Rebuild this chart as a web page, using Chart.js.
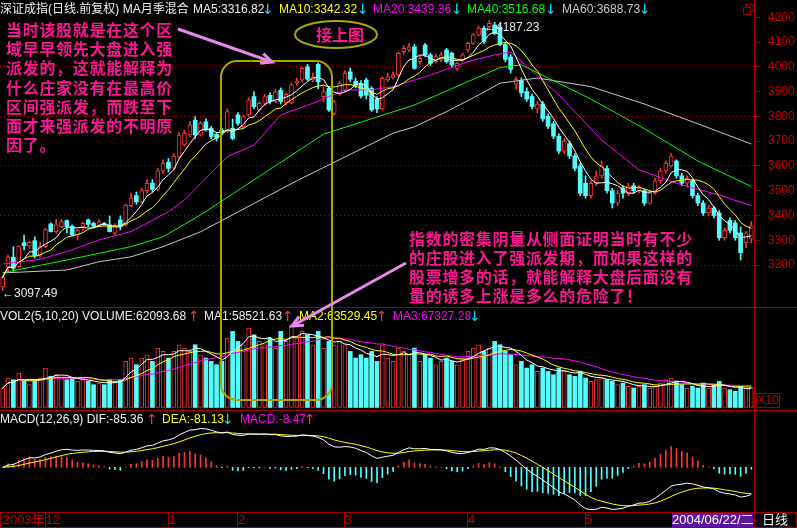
<!DOCTYPE html>
<html><head><meta charset="utf-8">
<script src="https://cdn.jsdelivr.net/npm/chart.js@4.4.1/dist/chart.umd.min.js"></script>
<style>
html,body{margin:0;padding:0;background:#000;overflow:hidden;}
#wrap{position:relative;width:797px;height:528px;background:#000;overflow:hidden;font-family:'Liberation Sans',Arial,'Noto Sans CJK SC',sans-serif;}
canvas{position:absolute;left:0;}
.t{position:absolute;white-space:nowrap;font-size:12px;line-height:14px;}
.a{position:absolute;white-space:nowrap;font-size:14px;line-height:14px;font-family:'DejaVu Sans',sans-serif;}
.ln{position:absolute;background:#a00000;}
.note{position:absolute;font-family:'Noto Sans CJK SC',sans-serif;font-weight:700;font-size:16px;color:#ff1493;letter-spacing:0.7px;white-space:nowrap;}
</style></head>
<body><div id="wrap">
<canvas id="cPrice" width="797" height="307" style="top:0"></canvas>
<canvas id="cVol" width="797" height="100" style="top:308px"></canvas>
<canvas id="cMacd" width="797" height="117" style="top:411px"></canvas>

<div class="ln" style="left:0;top:307px;width:797px;height:1px"></div>
<div class="ln" style="left:0;top:410px;width:797px;height:1px"></div>
<div class="ln" style="left:754px;top:0;width:1px;height:528px"></div>
<div style="position:absolute;left:0;top:512px;width:797px;height:16px;box-sizing:border-box;border:1px solid #a00000;"></div>

<div class="t" style="left:0;top:2px;color:#f0f0f0">深证成指(日线.前复权) MA月季混合</div>
<div class="t" style="left:193px;top:2px;color:#f0f0f0">MA5:3316.82</div><div class="a" style="left:262px;top:2px;color:#00e8ff">↓</div>
<div class="t" style="left:279px;top:2px;color:#ffff00">MA10:3342.32</div><div class="a" style="left:357px;top:2px;color:#00e8ff">↓</div>
<div class="t" style="left:373px;top:2px;color:#ff00ff">MA20:3439.36</div><div class="a" style="left:451px;top:2px;color:#00e8ff">↓</div>
<div class="t" style="left:467px;top:2px;color:#00ff00">MA40:3516.68</div><div class="a" style="left:545px;top:2px;color:#00e8ff">↓</div>
<div class="t" style="left:562px;top:2px;color:#c8c8c8">MA60:3688.73</div><div class="a" style="left:639px;top:2px;color:#00e8ff">↓</div>
<div style="position:absolute;left:746px;top:4px;width:6px;height:6px;border:1px solid #a00000"></div>
<div style="position:absolute;left:743px;top:7px;width:6px;height:6px;border:1px solid #a00000;background:#000"></div>

<div class="t" style="left:0;top:309px;color:#f0f0f0">VOL2(5,10,20) VOLUME:62093.68</div><div class="a" style="left:188px;top:309px;color:#ff3232">↑</div>
<div class="t" style="left:204px;top:309px;color:#f0f0f0">MA1:58521.63</div><div class="a" style="left:282px;top:309px;color:#ff3232">↑</div>
<div class="t" style="left:299px;top:309px;color:#ffff00">MA2:63529.45</div><div class="a" style="left:376px;top:309px;color:#ff3232">↑</div>
<div class="t" style="left:393px;top:309px;color:#ff00ff">MA3:67327.28</div><div class="a" style="left:469px;top:309px;color:#00e8ff">↓</div>
<div class="t" style="left:756px;top:393px;width:22px;height:13px;border:1px solid #a00000;color:#c80000;font-size:12px;line-height:13px;text-align:center">X10</div>

<div class="t" style="left:0;top:412px;color:#f0f0f0">MACD(12,26,9) DIF:-85.36</div><div class="a" style="left:146px;top:412px;color:#ff3232">↑</div>
<div class="t" style="left:162px;top:412px;color:#ffff00">DEA:-81.13</div><div class="a" style="left:222px;top:412px;color:#00e8ff">↓</div>
<div class="t" style="left:240px;top:412px;color:#ff00ff">MACD:-8.47</div><div class="a" style="left:304px;top:412px;color:#ff3232">↑</div>

<div class="t" style="left:672px;top:513px;width:81px;height:14px;background:#5b189e;color:#fff;font-size:13px;text-align:center">2004/06/22/二</div>
<div class="t" style="left:762px;top:513px;color:#f0f0f0;font-size:13px">日线</div>

<div class="t" style="left:2px;top:286px;color:#e8e8e8">←3097.49</div>
<div class="t" style="left:484px;top:20px;color:#e8e8e8">←4187.23</div>

<svg width="797" height="528" style="position:absolute;left:0;top:0">
  <rect x="221" y="61" width="111" height="339" rx="16" ry="16" fill="none" stroke="#a8a800" stroke-width="2"/>
  <ellipse cx="336" cy="34.5" rx="41" ry="13.5" fill="none" stroke="#a8a800" stroke-width="2"/>
  <line x1="178" y1="29" x2="271" y2="61.6" stroke="#e888e8" stroke-width="3"/>
  <polyline points="263.4,53.6 272,62 260.1,63.2" fill="none" stroke="#e888e8" stroke-width="3"/>
  <line x1="406" y1="263" x2="293" y2="325.5" stroke="#e888e8" stroke-width="3"/>
  <polyline points="304,325.2 292,326 299.1,316.3" fill="none" stroke="#e888e8" stroke-width="3"/>
</svg>
<div class="note" style="left:316px;top:24px;font-size:16px;line-height:20px;letter-spacing:0">接上图</div>
<div class="note" style="left:6px;top:20px;line-height:19.2px">当时该股就是在这个区<br>域早早领先大盘进入强<br>派发的，这就能解释为<br>什么庄家没有在最高价<br>区间强派发，而跌至下<br>面才来强派发的不明原<br>因了。</div>
<div class="note" style="left:409px;top:229px;line-height:19px">指数的密集阴量从侧面证明当时有不少<br>的庄股进入了强派发期，而如果这样的<br>股票增多的话，就能解释大盘后面没有<br>量的诱多上涨是多么的危险了！</div>
</div>
<script>
const RED = '#ff3232', CYAN = '#54fcfc', AXIS = '#a00000', LABEL = '#c80000';
const FONT = "'Liberation Sans', Arial, 'Noto Sans CJK SC', sans-serif";

// ---- daily candles ----
const opens = [3112,3187,3231,3193,3290,3276,3298,3240,3274,3366,
3335,3355,3379,3357,3321,3355,3382,3368,3359,3366,
3362,3328,3382,3362,3440,3480,3455,3500,3530,3505,
3580,3615,3590,3635,3685,3725,3785,3725,3778,3752,
3728,3745,3738,3752,3806,3758,3806,3880,3826,3853,
3885,3860,3906,3853,3855,3934,3947,4000,3947,4010,
3880,3913,3812,3893,3906,3980,3942,3932,3947,3913,
3870,3830,3947,3955,3967,4061,4068,4081,4021,4088,
4048,4021,4028,4068,4055,3994,4028,4068,4095,4129,
4156,4162,4169,4160,4090,4040,3930,3945,3900,3880,
3830,3850,3800,3770,3720,3660,3690,3640,3600,3530,
3480,3530,3560,3590,3500,3450,3510,3490,3520,3500,
3500,3450,3490,3540,3580,3600,3620,3560,3530,3540,
3480,3450,3410,3430,3410,3310,3380,3370,3330,3290,3304];
const highs = [3156,3240,3274,3278,3321,3296,3314,3292,3348,3370,
3384,3384,3382,3362,3344,3372,3386,3374,3382,3372,
3398,3366,3398,3446,3490,3495,3510,3545,3545,3590,
3625,3630,3650,3735,3745,3780,3799,3780,3790,3760,
3735,3752,3830,3790,3815,3805,3875,3900,3860,3890,
3895,3910,3915,3895,3935,3955,4000,4010,3975,4015,
3920,3920,3865,3940,3985,3995,3955,3945,3955,3920,
3880,3960,3975,3980,4060,4085,4095,4090,4045,4095,
4055,4050,4058,4075,4060,4020,4055,4100,4135,4165,
4165,4187.23,4180,4170,4100,4050,3960,3955,3915,3890,
3860,3860,3810,3780,3730,3710,3700,3650,3610,3560,
3540,3580,3620,3600,3510,3500,3520,3530,3530,3520,
3505,3500,3550,3590,3620,3650,3625,3570,3560,3545,
3490,3460,3440,3435,3420,3350,3390,3380,3353,3336,3375];
const lows = [3097.49,3173,3175,3190,3261,3266,3228,3232,3270,3333,
3328,3351,3330,3318,3301,3340,3355,3350,3355,3360,
3333,3322,3342,3358,3435,3445,3450,3490,3495,3500,
3570,3575,3585,3630,3680,3718,3711,3720,3740,3710,
3700,3725,3735,3705,3765,3750,3800,3830,3820,3845,
3850,3855,3850,3845,3850,3925,3940,3945,3940,3912,
3859,3820,3805,3885,3900,3940,3915,3875,3870,3820,
3815,3825,3940,3950,3960,4050,4060,3990,4010,4040,
4005,4015,4020,4015,4000,3985,4020,4060,4090,4125,
4095,4150,4130,4085,4020,3975,3910,3880,3860,3830,
3815,3780,3750,3710,3650,3650,3630,3580,3480,3470,
3470,3520,3550,3490,3430,3440,3470,3480,3490,3490,
3440,3445,3485,3530,3570,3595,3550,3520,3520,3470,
3440,3400,3400,3390,3300,3300,3330,3300,3220,3270,3290];
const closes = [3150,3233,3187,3274,3278,3292,3236,3274,3343,3335,
3362,3375,3355,3321,3339,3368,3364,3357,3375,3364,
3335,3357,3355,3442,3470,3455,3500,3530,3505,3580,
3610,3590,3640,3725,3732,3765,3725,3772,3745,3718,
3712,3735,3819,3711,3772,3799,3866,3839,3853,3880,
3860,3900,3860,3889,3927,3943,3994,3950,3960,3940,
3900,3826,3859,3934,3974,3950,3925,3882,3885,3826,
3830,3954,3960,3968,4055,4075,4081,3994,4034,4048,
4014,4041,4048,4021,4007,4014,4048,4095,4129,4156,
4102,4176,4135,4090,4030,3990,3950,3895,3870,3840,
3850,3790,3760,3720,3660,3700,3640,3590,3490,3480,
3530,3560,3600,3500,3450,3490,3490,3520,3500,3510,
3450,3490,3540,3580,3610,3640,3560,3530,3550,3480,
3450,3410,3430,3400,3310,3340,3340,3310,3250,3330,3358];
const volumes = [60000,90000,85000,105000,80000,70000,85000,90000,120000,95000,
100000,90000,85000,90000,80000,85000,80000,70000,75000,70000,
85000,80000,85000,140000,150000,130000,150000,160000,140000,180000,
170000,150000,170000,190000,180000,170000,190000,160000,150000,140000,
130000,140000,210000,230000,200000,190000,240000,220000,200000,190000,
210000,180000,230000,200000,250000,210000,230000,220000,190000,230000,
180000,200000,190000,200000,190000,170000,150000,160000,150000,170000,
140000,190000,150000,140000,180000,170000,160000,180000,140000,160000,
150000,130000,140000,150000,140000,130000,150000,170000,180000,190000,
170000,180000,200000,190000,170000,160000,130000,140000,120000,130000,
110000,120000,110000,100000,120000,110000,100000,95000,110000,90000,
80000,85000,90000,85000,80000,70000,75000,65000,60000,65000,
70000,60000,65000,75000,85000,90000,81252,70000,60000,65000,
60000,75000,60000,68000,80000,60200,55000,50000,65000,60000,62093.68];

// ---- slow moving averages at sample days ----
const ma20Days = [0,7,12,18,24,31,34,42,47,52,58,64,69,73,80,87,92,95,104,112,119,127,134,140];
const ma20Vals = [3204,3223,3254,3301,3335,3415,3462,3637,3684,3806,3853,3907,3907,3920,3967,4021,4048,4060,3887,3705,3584,3523,3483,3439.36];
const ma40Days = [0,12,18,24,30,37,60,77,93,97,110,120,130,140];
const ma40Vals = [3169,3220,3247,3274,3314,3402,3728,3846,3997,4008,3870,3750,3620,3516.68];
const ma60Days = [0,12,18,24,30,37,55,73,77,83,89,93,100,110,120,130,140];
const ma60Vals = [3168,3180,3213,3233,3274,3334,3540,3732,3758,3819,3886,3934,3955,3920,3850,3770,3688.73];

// ---- x axis month marks ----
const monthStartDays = [0,8,31,44,64,87,109];
const monthLabels = ['2003年','12','1','2','3','4','5'];

const N = closes.length;
const isUp = closes.map((c, i) => c >= opens[i]);

function sma(arr, n) {
  return arr.map((_, i) => { const s = Math.max(0, i - n + 1); let t = 0; for (let k = s; k <= i; k++) t += arr[k]; return t / (i - s + 1); });
}
function ema(arr, n) { const out = []; arr.forEach((v, i) => out.push(i === 0 ? v : (2 * v + (n - 1) * out[i - 1]) / (n + 1))); return out; }
const ema12 = ema(closes, 12), ema26 = ema(closes, 26);
const dif = closes.map((_, i) => ema12[i] - ema26[i]);
const dea = ema(dif, 9);
const macd = dif.map((d, i) => 2 * (d - dea[i]));
const ma5 = sma(closes, 5), ma10 = sma(closes, 10);
const vma5 = sma(volumes, 5), vma10 = sma(volumes, 10), vma20 = sma(volumes, 20);

const pts = arr => arr.map((v, i) => ({x: i, y: v}));
const sampled = (days, vals) => days.map((d, k) => ({x: d, y: vals[k]}));
const line = (data, color) => ({type: 'line', data, borderColor: color, borderWidth: 1, pointRadius: 0, tension: 0, order: 1});
const T = 'rgba(0,0,0,0)';

function axisY(min, max, step, labelOf, gridOf) {
  return {
    position: 'right', min, max,
    afterFit(s) { s.width = 43; s.paddingTop = 0; s.paddingBottom = 0; },
    border: {display: true, color: AXIS, width: 1, dash: [1, 3]},
    grid: {
      drawOnChartArea: true, drawTicks: true, tickLength: 6, lineWidth: 1,
      color: c => (c.tick && gridOf(Math.round(c.tick.value))) || T,
      tickColor: c => (c.tick && labelOf(Math.round(c.tick.value)) !== '') ? AXIS : T
    },
    ticks: {stepSize: step, includeBounds: false, autoSkip: false, padding: 8, color: LABEL,
      font: {family: FONT, size: 12}, callback: v => labelOf(Math.round(v))}
  };
}
const xHidden = {type: 'linear', min: -0.5, max: N - 0.5, display: false, offset: false, grid: {offset: false}};
const baseOpts = {responsive: false, animation: false, events: [], layout: {padding: 0, autoPadding: false},
  plugins: {legend: {display: false}, tooltip: {enabled: false}}};

// ---- price panel ----
new Chart(document.getElementById('cPrice'), {
  type: 'bar',
  data: {datasets: [
    line(pts(ma5), '#ffffff'),
    line(pts(ma10), '#ffff00'),
    line(sampled(ma20Days, ma20Vals), '#ff00ff'),
    line(sampled(ma40Days, ma40Vals), '#00ff00'),
    line(sampled(ma60Days, ma60Vals), '#c8c8c8'),
    {type: 'bar', data: opens.map((o, i) => ({x: i, y: [o, closes[i]]})), grouped: false, barThickness: 4, minBarLength: 1,
     backgroundColor: c => isUp[c.dataIndex] ? '#000' : CYAN, borderColor: c => isUp[c.dataIndex] ? RED : CYAN,
     borderWidth: c => isUp[c.dataIndex] ? 1 : 0, borderSkipped: false, order: 2},
    {type: 'bar', data: lows.map((l, i) => ({x: i, y: [l, highs[i]]})), grouped: false, barThickness: 1,
     backgroundColor: c => isUp[c.dataIndex] ? RED : CYAN, order: 3}
  ]},
  options: Object.assign({}, baseOpts, {scales: {
    x: xHidden,
    y: axisY(4200 - (307 - 17.3) / 0.2477, 4200 + 17.3 / 0.2477, 100,
      v => (v >= 3200 && v <= 4200) ? String(v) : '',
      v => (v >= 3200 && v <= 4000 && v % 200 === 0) ? AXIS : null)
  }})
});

// ---- volume panel ----
new Chart(document.getElementById('cVol'), {
  type: 'bar',
  data: {datasets: [
    line(pts(vma5), '#ffffff'),
    line(pts(vma10), '#ffff00'),
    line(pts(vma20), '#ff00ff'),
    {type: 'bar', data: volumes.map((v, i) => ({x: i, y: [0, v]})), grouped: false, barThickness: 4,
     backgroundColor: c => isUp[c.dataIndex] ? '#000' : CYAN, borderColor: c => isUp[c.dataIndex] ? RED : CYAN,
     borderWidth: c => isUp[c.dataIndex] ? 1 : 0, borderSkipped: false, order: 2}
  ]},
  options: Object.assign({}, baseOpts, {scales: {
    x: xHidden,
    y: axisY(0, 300300, 100000,
      v => (v === 100000 || v === 200000) ? String(v / 10) : '',
      v => (v === 100000 || v === 200000) ? AXIS : null)
  }})
});

// ---- MACD panel ----
new Chart(document.getElementById('cMacd'), {
  type: 'bar',
  data: {datasets: [
    line(pts(dif), '#ffffff'),
    line(pts(dea), '#ffff00'),
    {type: 'bar', data: macd.map((m, i) => ({x: i, y: [0, m]})), grouped: false, barThickness: 1,
     backgroundColor: c => macd[c.dataIndex] >= 0 ? RED : CYAN, order: 2}
  ]},
  options: Object.assign({}, baseOpts, {scales: {
    x: {type: 'linear', min: -0.5, max: N - 0.5, position: 'bottom', offset: false,
      afterBuildTicks(s) { s.ticks = monthStartDays.map(v => ({value: v})); },
      afterFit(s) { s.height = 16; s.paddingLeft = 0; s.paddingRight = 0; },
      border: {display: false},
      grid: {offset: false, drawOnChartArea: false, drawTicks: true, tickLength: 16, tickColor: c => (c.tick && c.tick.value !== 0) ? AXIS : T},
      ticks: {autoSkip: false, maxRotation: 0, minRotation: 0, align: 'start', padding: -15, color: LABEL,
        font: {family: FONT, size: 13}, callback: v => { const k = monthStartDays.indexOf(v); return k >= 0 ? monthLabels[k] : ''; }}
    },
    y: axisY(-(101 - 56.3) / 0.336, 56.3 / 0.336, 50,
      v => v === 100 ? '100.0' : (v === 0 ? '0.00' : ''),
      v => v === 100 ? AXIS : (v === 0 ? '#c8c8c8' : null))
  }})
});
</script>
</body></html>
